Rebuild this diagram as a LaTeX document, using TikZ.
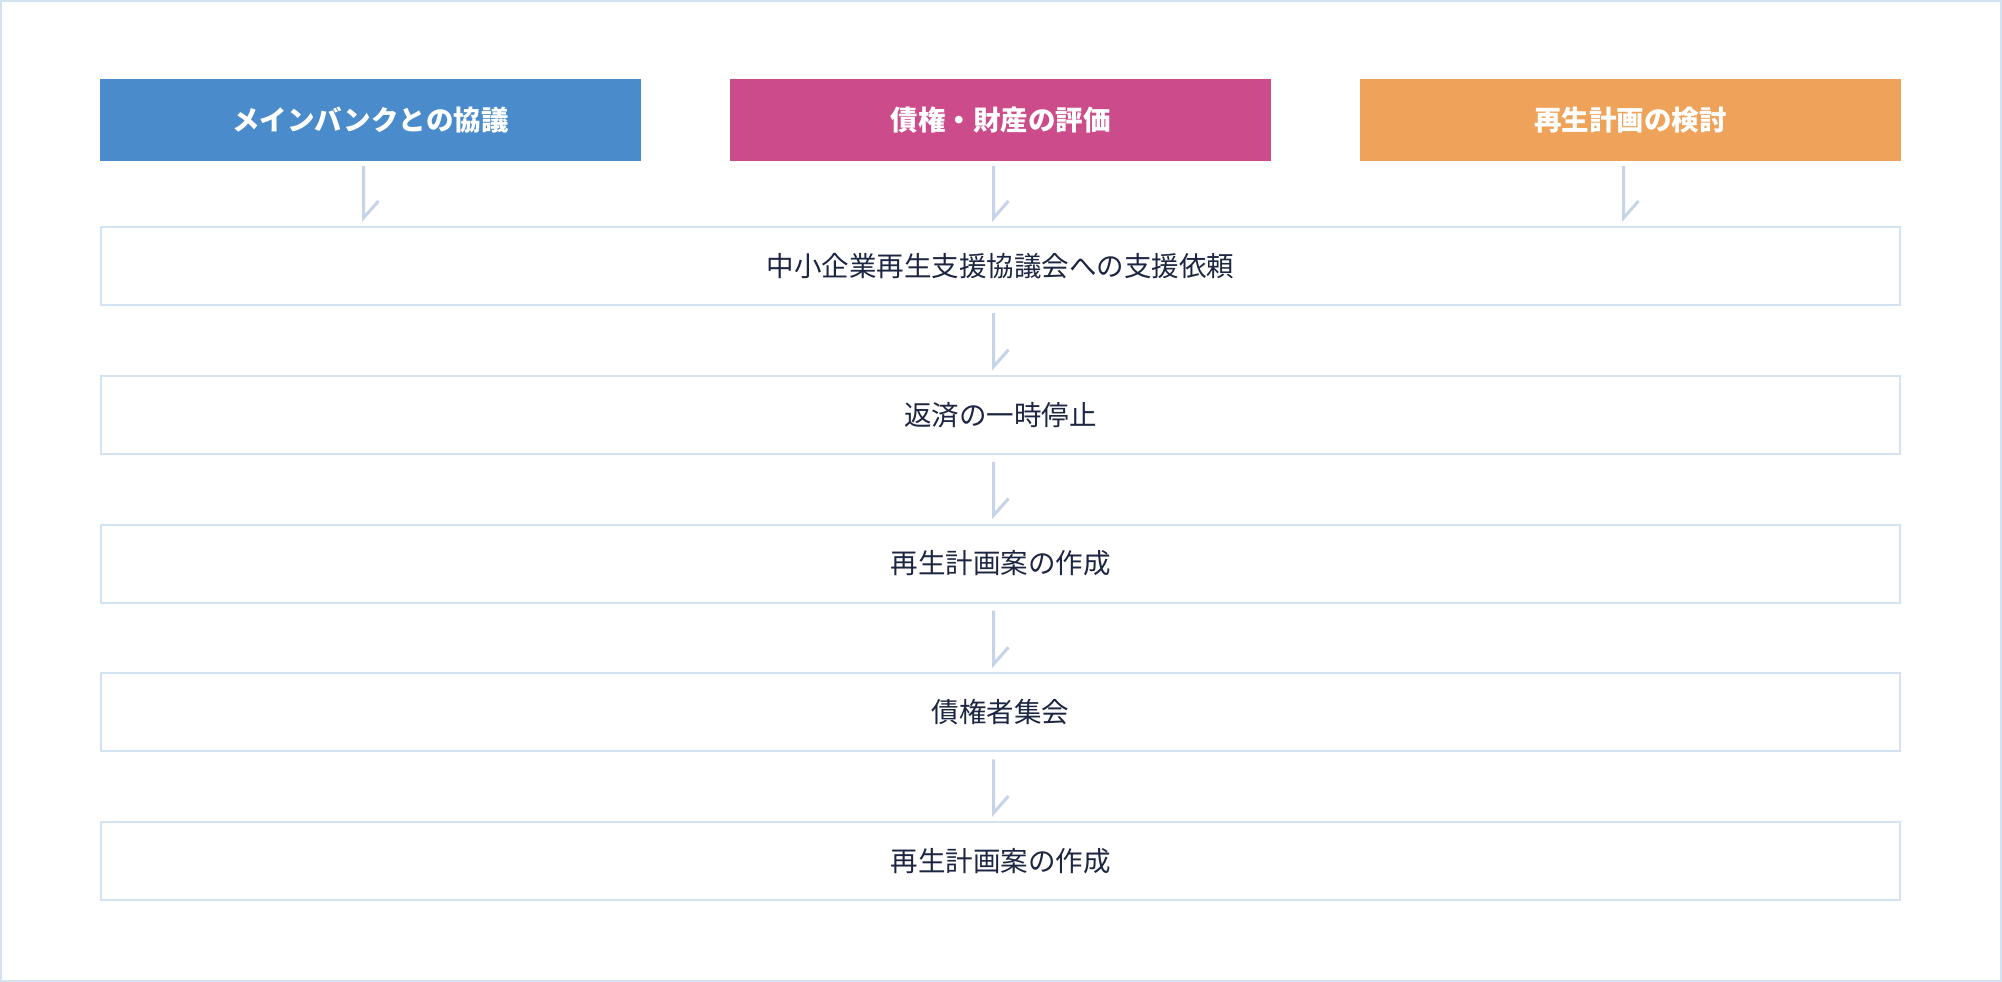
\documentclass[tikz,border=0pt]{standalone}
\usepackage{fontspec}
\usetikzlibrary{calc}
\newfontfamily\jp{Noto Sans CJK JP}
\definecolor{hblue}{HTML}{4A8CCB}
\definecolor{hmag}{HTML}{CC4B8A}
\definecolor{horange}{HTML}{EEA25A}
\definecolor{frame}{HTML}{D4E3F1}
\definecolor{arrowc}{HTML}{C6D3E8}
\definecolor{ink}{HTML}{1C2541}
\begin{document}
\begin{tikzpicture}[x=1pt,y=-1pt,
  hdr/.style={minimum width=541pt,minimum height=82pt,inner sep=0pt,outer sep=0pt,
    text=white,font=\jp\bfseries\fontsize{27.5}{33}\selectfont},
  rowbox/.style={draw=frame,line width=2pt,fill=white,minimum width=1799pt,minimum height=78pt,
    inner sep=0pt,text=ink,font=\jp\fontsize{27.5}{33}\selectfont},
  flow/.style={draw=arrowc,line width=3pt}]
\useasboundingbox (0,0) rectangle (2002,982);
\draw[frame,line width=2pt] (1,1) rectangle (2001,981);
\node[hdr,fill=hblue] (h1) at (370.5,120) {メインバンクとの協議};
\node[hdr,fill=hmag] (h2) at (1000.5,120) {債権・財産の評価};
\node[hdr,fill=horange] (h3) at (1630.5,120) {再生計画の検討};
\node[rowbox] (r1) at (1000.5,266) {中小企業再生支援協議会への支援依頼};
\node[rowbox] (r2) at (1000.5,414.75) {返済の一時停止};
\node[rowbox] (r3) at (1000.5,563.5) {再生計画案の作成};
\node[rowbox] (r4) at (1000.5,712.25) {債権者集会};
\node[rowbox] (r5) at (1000.5,861) {再生計画案の作成};
\foreach \h in {h1,h2,h3}{
  \coordinate (s) at ([xshift=-7pt,yshift=-5pt]\h.south);
  \coordinate (e) at ($(\h.south |- r1.north)+(-7pt,8pt)$);
  \draw[flow] (s) -- (e) -- ++(15pt,17pt);
}
\foreach \a/\b in {r1/r2,r2/r3,r3/r4,r4/r5}{
  \coordinate (s) at ([xshift=-7pt,yshift=-7pt]\a.south);
  \coordinate (e) at ([xshift=-7pt,yshift=8pt]\b.north);
  \draw[flow] (s) -- (e) -- ++(15pt,17pt);
}
\end{tikzpicture}
\end{document}
